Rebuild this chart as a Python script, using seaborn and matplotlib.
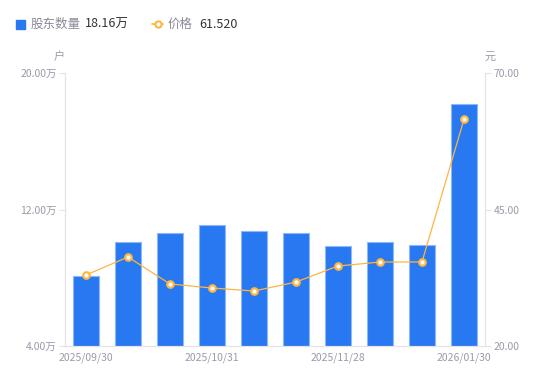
import numpy as np
import pandas as pd
import seaborn as sns
import matplotlib.pyplot as plt
import matplotlib.ticker as ticker
from matplotlib.lines import Line2D
from matplotlib.patches import Rectangle

dates = ["2025/09/30", "2025/10/15", "2025/10/20", "2025/10/31", "2025/11/10",
         "2025/11/20", "2025/11/28", "2025/12/19", "2025/12/31", "2026/01/30"]
holders = [8.10, 10.10, 10.62, 11.09, 10.74, 10.62, 9.86, 10.10, 9.92, 18.16]  # 万户
price = [33.0, 36.3, 31.36, 30.62, 30.07, 31.72, 34.65, 35.38, 35.40, 61.52]
shown_dates = ["2025/09/30", "2025/10/31", "2025/11/28", "2026/01/30"]

sns.set_theme(style="white")
plt.rcParams['font.family'] = ['Noto Sans CJK SC', 'DejaVu Sans']

bar_color = "#2878f2"
line_color = "#ffb53f"
tick_color = "#9a9aaa"
axis_color = "#e3e3e8"

df = pd.DataFrame({"date": dates, "holders": holders, "price": price})

fig = plt.figure(figsize=(5.5, 3.81), dpi=100)
ax = fig.add_axes([65 / 550, 1 - 346 / 381, 420 / 550, 273 / 381])
ax2 = ax.twinx()

sns.barplot(data=df, x="date", y="holders", ax=ax, color=bar_color, width=0.6,
            edgecolor="#8fb8f7", linewidth=0.8, saturation=1)
ax.set_ylim(4, 20)
ax.yaxis.set_major_locator(ticker.FixedLocator([4, 12, 20]))
ax.yaxis.set_major_formatter(ticker.FuncFormatter(lambda v, p: f"{v:.2f}万"))

x = np.arange(len(dates))
ax2.plot(x, df["price"], color=line_color, linewidth=0.9, zorder=3)
ax2.scatter(x, df["price"], s=22, facecolor="white", edgecolor=line_color,
            linewidth=1.6, zorder=4)
ax2.set_ylim(20, 70)
ax2.yaxis.set_major_locator(ticker.FixedLocator([20, 45, 70]))
ax2.yaxis.set_major_formatter(ticker.FuncFormatter(lambda v, p: f"{v:.2f}"))
ax.set_xlim(-0.5, len(dates) - 0.5)

ax.set_xticks([dates.index(d) for d in shown_dates])
ax.set_xticklabels(shown_dates)
ax.set_xlabel("")
ax.set_ylabel("")
ax2.set_ylabel("")
ax.grid(False)
ax2.grid(False)

for a in (ax, ax2):
    a.spines["top"].set_visible(False)
    for side in ("left", "right", "bottom"):
        a.spines[side].set_color(axis_color)
        a.spines[side].set_linewidth(0.8)
    a.tick_params(axis="both", colors=axis_color, labelcolor=tick_color,
                  labelsize=7.5, length=4, width=0.8, pad=2)
ax.tick_params(axis="x", length=0, pad=5)

fig.text(59 / 550, 1 - 57 / 381, "户", color=tick_color, fontsize=8, ha="center", va="center")
fig.text(490 / 550, 1 - 57 / 381, "元", color=tick_color, fontsize=8, ha="center", va="center")

# legend row
fig.patches.append(Rectangle((16 / 550, 1 - 29 / 381), 9 / 550, 9 / 381,
                             transform=fig.transFigure, color=bar_color))
fig.text(31 / 550, 1 - 24 / 381, "股东数量", color="#8a8a98", fontsize=9, va="center")
fig.text(85 / 550, 1 - 24 / 381, f"{holders[-1]:.2f}万", color="#333333", fontsize=9, va="center")
fig.lines.append(Line2D([152 / 550, 163 / 550], [1 - 24 / 381, 1 - 24 / 381],
                        transform=fig.transFigure, color=line_color, linewidth=1.2))
fig.lines.append(Line2D([157.5 / 550], [1 - 24 / 381], transform=fig.transFigure,
                        marker="o", markersize=4.5, markerfacecolor="white",
                        markeredgecolor=line_color, markeredgewidth=1.5))
fig.text(168 / 550, 1 - 24 / 381, "价格", color="#8a8a98", fontsize=9, va="center")
fig.text(199 / 550, 1 - 24 / 381, f"{price[-1]:.3f}", color="#333333", fontsize=9, va="center")

fig.savefig("out.png", dpi=100)
